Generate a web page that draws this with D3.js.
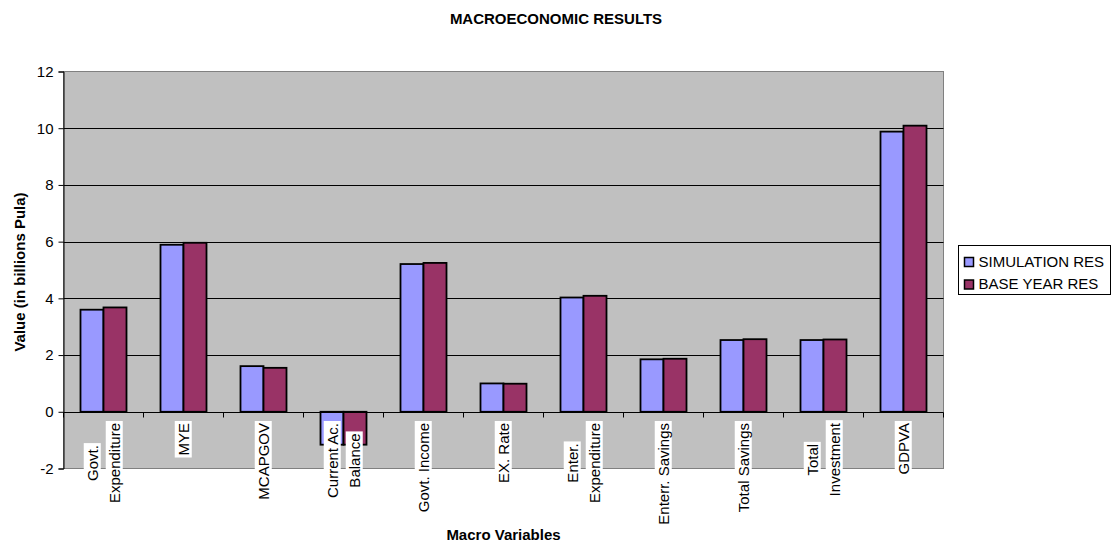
<!DOCTYPE html>
<html>
<head>
<meta charset="utf-8">
<script src="https://cdn.jsdelivr.net/npm/d3@7"></script>
<style>
  html, body { margin: 0; padding: 0; background: #fff; }
  svg { display: block; font-family: "Liberation Sans", Arial, sans-serif; }
</style>
</head>
<body>
<svg id="chart" width="1112" height="543"></svg>
<script>
// ---- data ----
const categories = ["Govt. Expenditure", "MYE", "MCAPGOV", "Current Ac. Balance", "Govt. Income",
  "EX. Rate", "Enter. Expenditure", "Enterr. Savings", "Total Savings", "Total Investment", "GDPVA"];
const categoryLines = [["Govt.", "Expenditure"], ["MYE"], ["MCAPGOV"], ["Current Ac.", "Balance"], ["Govt. Income"],
  ["EX. Rate"], ["Enter.", "Expenditure"], ["Enterr. Savings"], ["Total Savings"], ["Total", "Investment"], ["GDPVA"]];
const seriesNames = ["SIMULATION RES", "BASE YEAR RES"];
const simulationRes = [3.60, 5.89, 1.61, -1.16, 5.21, 1.00, 4.03, 1.85, 2.53, 2.53, 9.88];
const baseYearRes   = [3.68, 5.96, 1.55, -1.16, 5.25, 0.99, 4.09, 1.87, 2.56, 2.55, 10.09];
const yTicks = [-2, 0, 2, 4, 6, 8, 10, 12];
const seriesColors = ["#9999FF", "#993366"];

const seriesValues = [simulationRes, baseYearRes];

// ---- layout ----
const svg = d3.select("#chart");
const pLeft = 63.5, pRight = 943.5, pTop = 71.5, pBottom = 468.5;

const y = d3.scaleLinear().domain([-2, 12]).range([pBottom, pTop]);
const x0 = d3.scaleBand().domain(categories).range([pLeft, pRight]).paddingInner(0.425).paddingOuter(0.2125);
const x1 = d3.scaleBand().domain(seriesNames).range([0, x0.bandwidth()]);
const step = x0.step();

// plot background
svg.append("rect").attr("x", pLeft).attr("y", pTop).attr("width", pRight - pLeft).attr("height", pBottom - pTop)
  .attr("fill", "#C0C0C0").attr("stroke", "#808080").attr("stroke-width", 1);

// gridlines
svg.append("g").selectAll("line").data(yTicks.filter(t => t > 0 && t < 12)).join("line")
  .attr("x1", pLeft).attr("x2", pRight)
  .attr("y1", d => Math.round(y(d)) + 0.5).attr("y2", d => Math.round(y(d)) + 0.5)
  .attr("stroke", "#000").attr("stroke-width", 1);

// y axis
const yAxis = d3.axisLeft(y).tickValues(yTicks).tickSize(5).tickPadding(5).tickFormat(d => String(d));
const yg = svg.append("g").attr("transform", `translate(${pLeft},0)`).call(yAxis);
yg.select(".domain").attr("stroke", "#000");
yg.selectAll(".tick line").attr("stroke", "#000");
yg.selectAll(".tick text").attr("font-size", 15).attr("font-family", "Liberation Sans, Arial, sans-serif").attr("fill", "#000");

// bars
const groups = svg.append("g").selectAll("g").data(categories).join("g")
  .attr("transform", d => `translate(${x0(d)},0)`);
groups.selectAll("rect").data((d, i) => seriesNames.map((s, j) => ({ s, v: seriesValues[j][i], j })))
  .join("rect")
  .attr("x", d => x1(d.s))
  .attr("width", x1.bandwidth())
  .attr("y", d => y(Math.max(0, d.v)))
  .attr("height", d => Math.abs(y(d.v) - y(0)))
  .attr("fill", d => seriesColors[d.j])
  .attr("stroke", "#000").attr("stroke-width", 1.8);

// zero axis with ticks at category boundaries
const zeroY = Math.round(y(0)) + 0.5;
svg.append("line").attr("x1", pLeft).attr("x2", pRight).attr("y1", zeroY).attr("y2", zeroY)
  .attr("stroke", "#000").attr("stroke-width", 1);
svg.append("g").selectAll("line").data(d3.range(categories.length + 1)).join("line")
  .attr("x1", i => pLeft + i * step).attr("x2", i => pLeft + i * step)
  .attr("y1", zeroY).attr("y2", zeroY + 5)
  .attr("stroke", "#000").attr("stroke-width", 1);

// category labels (rotated, white background)
const labelTop = 423;
const lineGap = 22;
categories.forEach((cat, i) => {
  const lines = categoryLines[i];
  const cx = x0(cat) + x0.bandwidth() / 2;
  const g = svg.append("g");
  const texts = lines.map(l => g.append("text").text(l)
    .attr("font-size", 15).attr("text-anchor", "middle").attr("dy", "0.35em").attr("fill", "#000"));
  const maxLen = d3.max(texts, t => t.node().getComputedTextLength());
  const cy = labelTop + maxLen / 2;
  g.attr("transform", `translate(${cx},${cy}) rotate(-90)`);
  texts.forEach((t, k) => {
    t.attr("y", (k - (lines.length - 1) / 2) * lineGap);
    const bb = t.node().getBBox();
    g.insert("rect", () => t.node())
      .attr("x", bb.x - 2).attr("y", bb.y).attr("width", bb.width + 4).attr("height", bb.height)
      .attr("fill", "#fff");
  });
});

// title
svg.append("text").attr("x", 556).attr("y", 23.5).attr("text-anchor", "middle")
  .attr("font-size", 15).attr("font-weight", "bold").text("MACROECONOMIC RESULTS");

// axis titles
svg.append("text").attr("transform", `translate(25,272) rotate(-90)`).attr("text-anchor", "middle")
  .attr("font-size", 15).attr("font-weight", "bold").text("Value (in billions Pula)");
svg.append("text").attr("x", (pLeft + pRight) / 2).attr("y", 540).attr("text-anchor", "middle")
  .attr("font-size", 15).attr("font-weight", "bold").text("Macro Variables");

// legend
const lg = svg.append("g");
lg.append("rect").attr("x", 958.5).attr("y", 245.5).attr("width", 152).attr("height", 49)
  .attr("fill", "#fff").attr("stroke", "#000").attr("stroke-width", 1);
seriesNames.forEach((s, j) => {
  lg.append("rect").attr("x", 964.5).attr("y", 257.5 + j * 22.5).attr("width", 9).attr("height", 9)
    .attr("fill", seriesColors[j]).attr("stroke", "#000").attr("stroke-width", 1.5);
  lg.append("text").attr("x", 978.5).attr("y", 266.5 + j * 22.5).attr("font-size", 15).text(s);
});
</script>
</body>
</html>
